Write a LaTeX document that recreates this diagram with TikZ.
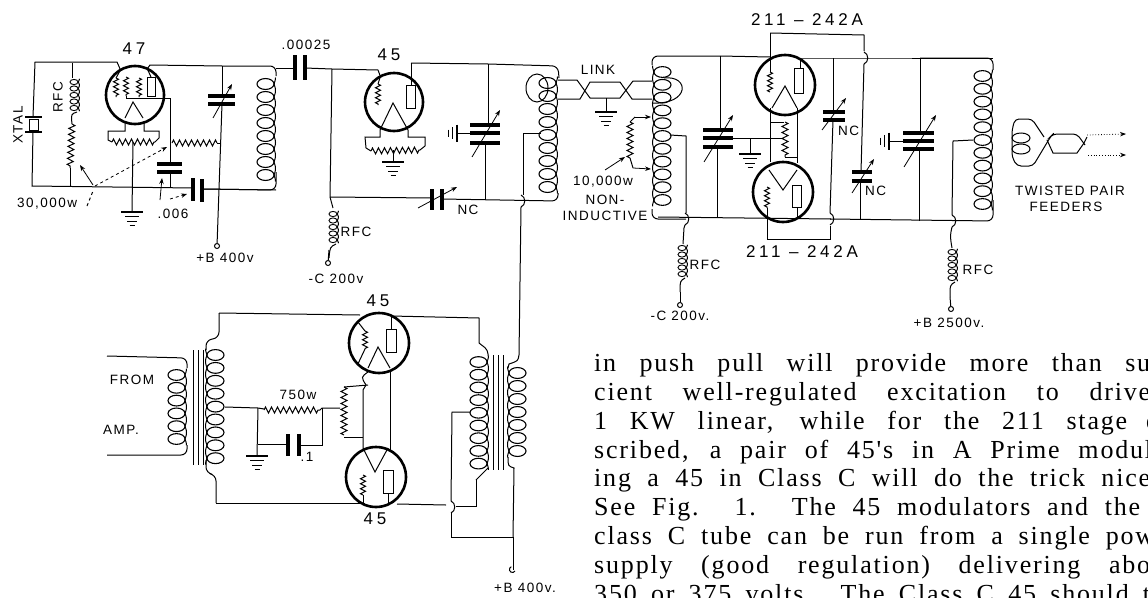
\documentclass[tikz,border=0pt]{standalone}
\usepackage{fontspec}
\setmainfont{Liberation Serif}
\newfontfamily\lblfont[LetterSpace=11]{Liberation Sans}
\newfontfamily\bigfont[LetterSpace=22]{Liberation Sans}
\newfontfamily\bodyfont[LetterSpace=7]{Liberation Serif}
\usetikzlibrary{arrows.meta}
\usetikzlibrary{calc,decorations.pathmorphing}

\newcommand{\bline}[2][556pt]{\makebox[#1][s]{#2}}

\tikzset{
	wire/.style={line width=1pt},
	bendwire/.style={line width=1pt,rounded corners=6pt},
	plate/.style={line width=3.2pt},
	tube/.style={draw,circle,line width=2.6pt,inner sep=0pt,outer sep=0pt,minimum size=#1},
	res/.style={line width=1pt,decorate,decoration={zigzag,amplitude=3pt,segment length=6pt}},
	tip/.style={line width=0.8pt,-{Stealth[length=6pt,width=4.5pt]}},
	lbl/.style={font=\lblfont\fontsize{13.5}{14}\selectfont,inner sep=0pt},
	biglbl/.style={font=\bigfont\fontsize{17}{18}\selectfont,inner sep=0pt},
	term/.style={draw,circle,line width=1pt,inner sep=0pt,minimum size=5pt},
	bodyline/.style={anchor=base west,inner sep=0pt,font=\bodyfont\fontsize{26}{28}\selectfont},
	% spine on the right, loops to the left
	pics/coilr/.style n args={2}{code={
		\pgfmathsetmacro{\coilend}{#1-0.5}
		\foreach \i in {1,...,#1}
			\draw[line width=1.1pt] (-8.5,{(\i-1)*#2}) ellipse [x radius=8.5pt,y radius=0.42*#2 pt];
		\draw[wire] plot[domain=-0.5:\coilend,samples=60,smooth] ({1.5*abs(sin(180*\x))},{\x*#2});
	}},
	% spine on the left, loops to the right
	pics/coill/.style n args={2}{code={
		\pgfmathsetmacro{\coilend}{#1-0.5}
		\foreach \i in {1,...,#1}
			\draw[line width=1.1pt] (8.5,{(\i-1)*#2}) ellipse [x radius=8.5pt,y radius=0.42*#2 pt];
		\draw[wire] plot[domain=-0.5:\coilend,samples=60,smooth] ({-1.5*abs(sin(180*\x))},{\x*#2});
	}},
	% small choke
	pics/rfc/.style={code={
		\foreach \i in {0,...,4}
			\draw[line width=0.9pt] (-3,{\i*6.5}) ellipse [x radius=4pt,y radius=2.6pt];
		\draw[wire] plot[domain=-0.5:4.5,samples=50,smooth] ({1.2+1.2*abs(sin(180*\x))},{\x*6.5});
	}},
	pics/gnd/.style={code={
		\draw[line width=1.2pt] (-11,0)--(11,0);
		\draw[line width=1.1pt] (-7,4.5)--(7,4.5);
		\draw[line width=1pt] (-5,9)--(5,9);
		\draw[line width=1pt] (-2.5,13)--(2.5,13);
	}},
	% wire jumping over another wire
	pics/hop/.style={code={
		\draw[wire] (0,-6) .. controls (5,-4) and (5,4) .. (0,6);
	}},
	% earthed rotor bar, seen from the side
	pics/rotor/.style={code={
		\draw[line width=2pt] (0,-8.5)--(0,8.5);
		\draw[line width=0.9pt] (-5,-6)--(-5,6);
		\draw[line width=0.9pt] (-9,-3.5)--(-9,3.5);
	}},
}

\begin{document}
\begin{tikzpicture}[x=1pt,y=-1pt]
	\useasboundingbox (0,0) rectangle (1148,597);

	%%%%% 47 oscillator
	\node[tube=58pt] (V47) at (135,95) {};
	\coordinate (TL) at (35,62) ;
	\coordinate (BL) at (32,186) ;
	\coordinate (XA) at (33,117) ;
	\coordinate (XB) at (33,132) ;
	\coordinate (RT) at (72,63) ;
	\coordinate (RB) at (70,186) ;
	\coordinate (CA) at (193,188) ;
	\coordinate (CB) at (202,189) ;
	\coordinate (CP) at (222,66) ;
	\coordinate (CQ) at (218,190) ;
	\coordinate (LA) at (276,66) ;
	\coordinate (LB) at (276,190) ;
	\coordinate (Gs) at (170,98) ;

	\node[biglbl] (n47) at (134,49) {47};
	\node[lbl,rotate=90] (xtal) at (18,125) {XTAL};
	\node[lbl,rotate=90] (rfc1) at (58,97) {RFC};
	\node[lbl,anchor=west] (r30k) at (17,204) {30,000w};
	\node[lbl] (c006) at (173,214) {.006};
	\node[lbl] (b400) at (225,258) {+B 400v};

	\draw[wire] (XA) -- (TL) -- (117,62) -- (V47.120);
	\draw[wire] (XB) -- (BL) -- (CA);
	\draw[plate,line width=1.3pt] (25,117) -- (42,117) (25,132) -- (42,132);
	\draw[wire] (29,119) rectangle (38,130);

	\draw[wire] (RT) -- (72,78);
	\path (77,82) pic {rfc};
	\draw[wire] (77,112) .. controls (71,114) .. (72,124);
	\draw[res] (72,124) -- (70,168);
	\draw[wire] (70,168) -- (RB);

	% inside the tube
	\draw[wire] (V47.120) -- (116,78);
	\draw[res,decoration={amplitude=2.5pt,segment length=5pt}] (116,78) -- (116,97);
	\draw[res,decoration={amplitude=2.5pt,segment length=5pt}] (126,77) -- (126,96);
	\draw[res,decoration={amplitude=2.5pt,segment length=5pt}] (139,78) -- (139,97);
	\draw[wire] (126,96) -- (126,98) -- (Gs);
	\draw[wire] (147,77) rectangle (155,96);
	\draw[wire] (151,77) -- (V47.65);
	\draw[wire] (125,118) -- (133,102) -- (143,118);
	% filament
	\draw[wire] (125,121) -- (125,131) -- (108,131) -- (108,140) -- (112,142);
	\draw[res] (112,142) -- (155,142);
	\draw[wire] (155,142) -- (159,138) -- (159,131) -- (144,131) -- (144,121);
	\draw[wire] (133,142) -- (132,212);
	\path (132,212) pic {gnd};

	\draw[wire] (Gs) -- (170,143);
	\draw[wire] (170,143) -- (170,164);
	\draw[res] (172,143) -- (217,143);
	\draw[wire] (217,143) -- (221,143);
	\draw[plate] (157,164) -- (182,164);
	\draw[plate] (157,172) -- (182,172);
	\draw[wire] (170,172) -- (170,188);
	\draw[plate] (CA)++(0,-10) -- ++(0,23);
	\draw[plate] (CB)++(0,-10) -- ++(0,23);
	\draw[wire] (CB) -- (LB);

	% pointers to the values
	\draw[tip] (93,185) -- (80,165);
	\draw[tip,dashed] (95,186) -- (167,147);
	\draw[wire,dashed] (87,206) -- (93,191);
	\draw[tip] (160,200) -- (162,178);
	\draw[tip,dashed] (170,199) -- (187,194);

	\draw[wire] (V47.65) -- (150,65) -- (CP);
	\draw[wire] (CP) -- (222,96);
	\draw[plate] (208,96) -- (235,96);
	\draw[plate] (208,104) -- (235,104);
	\draw[tip] (213,118) -- (232,84);
	\node[term] (tb400) at (217,246) {};
	\draw[wire] (222,104) -- (tb400);

	\draw[bendwire] (CP) -- (276,66) -- (276,76);
	\path (274,84) pic {coilr={8}{13}};
	\draw[bendwire] (276,172) -- (276,190) -- (CB);

	%%%%% coupling condenser
	\node[lbl] (c25) at (306,45) {.00025};
	\draw[wire] (276,68) -- (295,68);
	\draw[plate] (295,55) -- (295,80);
	\draw[plate] (305,55) -- (305,80);

	%%%%% 45 buffer
	\node[tube=58pt] (V45) at (394,102) {};
	\coordinate (Gb) at (332,69) ;
	\coordinate (Gc) at (330,197) ;
	\coordinate (Pm) at (411,63) ;
	\coordinate (Cm) at (488,64) ;
	\coordinate (LC) at (558,66) ;
	\coordinate (LD) at (558,201) ;
	\coordinate (Fd) at (519,207) ;

	\node[biglbl] (n45) at (389,55) {45};
	\node[lbl] (rfc2) at (356,232) {RFC};
	\node[lbl] (nc1) at (468,210) {NC};
	\node[lbl] (c200a) at (336,279) {-C 200v};

	\draw[wire] (305,68) -- (Gb) -- (378,70) -- (V45.118);
	\draw[wire] (V45.118) -- (378,84);
	\draw[res,decoration={amplitude=2.5pt,segment length=5pt}] (378,84) -- (378,105);
	\draw[wire] (406,85) rectangle (415,108);
	\draw[wire] (411,85) -- (Pm);
	\draw[wire] (380,130) -- (393,103) -- (408,130);
	\draw[wire] (380,130) -- (380,137) -- (365,137) -- (366,148) -- (371,151);
	\draw[res] (371,151) -- (420,150);
	\draw[wire] (420,150) -- (425,146) -- (425,137) -- (408,137) -- (408,130);
	\draw[wire] (393,150) -- (393,162);
	\path (393,162) pic {gnd};

	\draw[wire] (Pm) -- (Cm);
	\draw[bendwire] (Cm) -- (LC) -- (559,78);
	\path (556,83) pic {coilr={9}{13}};
	\draw[wire] (Cm) -- (488,125);
	\draw[plate] (470,125) -- (500,125);
	\draw[plate] (470,133) -- (500,133);
	\draw[plate] (470,143) -- (500,143);
	\draw[tip] (472,157) -- (500,110);
	\draw[wire] (457,133) -- (470,133);
	\path (457,133) pic {rotor};
	\draw[wire] (485,143) -- (485,200);

	\draw[wire] (Gb) -- (Gc);
	\draw[wire] (Gc) -- (432,198);
	\draw[plate] (432,189) -- (432,210);
	\draw[plate] (442,189) -- (442,210);
	\draw[tip] (418,208) -- (457,187);
	\draw[bendwire] (442,199) -- (LD) -- (558,193);
	\draw[wire] (Gc) .. controls (332,202) .. (333,208);
	\path (336,214) pic {rfc};
	\draw[wire] (336,244) .. controls (330,247) .. (329,258);
	\node[term] (tc200a) at (328,263) {};
	\draw[wire] (329,250) -- (tc200a);

	% plate tap, runs on down to the modulators
	\draw[wire] (541,133) -- (523,133) -- (523,195);
	\path (521,201) pic {hop};
	\draw[wire] (521,207) -- (519,355);
	
	% link
	\node[lbl] (link) at (598,70) {LINK};
	\draw[wire] (537,88) ellipse [x radius=11pt,y radius=14pt];
	\draw[wire] (558,80) -- (577,80) -- (590,98) -- (620,98) -- (633,81) -- (652,81);
	\draw[wire] (558,99) -- (580,99) -- (590,82) -- (620,82) -- (632,99) -- (652,99);
	\draw[wire] (606,98) -- (606,112);
	\path (606,112) pic {gnd};
	\draw[wire] (664,78) .. controls (690,75) and (690,105) .. (652,103);

	%%%%% 211 push-pull
	\node[tube=60pt] (VA) at (785,85) {};
	\node[tube=60pt] (VB) at (783,192) {};
	\coordinate (Ltl) at (652,55) ;
	\coordinate (Lbl) at (652,217) ;
	\coordinate (Ltr) at (993,58) ;
	\coordinate (Lbr) at (993,221) ;
	\coordinate (Tap) at (670,135) ;
	\coordinate (Hp) at (686,219) ;
	\coordinate (Gt) at (770,33) ;
	\coordinate (Gr) at (864,35) ;
	\coordinate (Gl) at (767,239) ;
	\coordinate (Gs2) at (830,239) ;
	\coordinate (Cl) at (720,56) ;
	\coordinate (Cn) at (833,58) ;
	\coordinate (Cr) at (920,58) ;
	\coordinate (Ct) at (750,138) ;

	\node[biglbl] (n211a) at (807,20) {211 – 242A};
	\node[biglbl] (n211b) at (802,252) {211 – 242A};
	\node[lbl,anchor=west] (nc2) at (838,131) {NC};
	\node[lbl,anchor=west] (nc3) at (865,191) {NC};
	\node[lbl] (rfc3) at (705,265) {RFC};
	\node[lbl] (c200b) at (680,316) {-C 200v.};
	\node[lbl] (r10k) at (603,182) {10,000w};
	\node[lbl] (non) at (605,200) {NON-};
	\node[lbl] (ind) at (605,216) {INDUCTIVE};

	\draw[bendwire] (Ltl)++(0,10) |- (Cl);
	\path (654,72) pic {coill={11}{12.8}};
	\draw[bendwire] (Lbl)++(0,-8) |- (Hp);

	\draw[tip] (635,117) -- (651,117);
	\draw[wire] (635,117) -- (630,122);
	\draw[res] (630,122) -- (630,158);
	\draw[wire] (630,158) -- (633,168);
	\draw[tip] (633,168) -- (651,169);
	\draw[tip] (605,170) -- (625,157);

	\draw[wire] (Tap) -- (686,136) -- (686,213);
	\path (685,219) pic {hop};
	\draw[wire] (685,225) -- (684,228) .. controls (683,236) .. (683,244);
	\path (685,248) pic {rfc};
	\draw[wire] (685,278) .. controls (680,281) .. (680,292);
	\node[term] (tc200b) at (680,305) {};
	\draw[wire] (680,292) -- (tc200b);

	\draw[wire] (Cl) -- (720,130);
	\draw[plate] (703,130) -- (733,130);
	\draw[plate] (703,138) -- (733,138);
	\draw[plate] (703,147) -- (733,147);
	\draw[tip] (704,162) -- (733,115);
	\draw[wire] (717,147) -- (717,218);
	\draw[wire] (733,138) -- (783,138);
	\draw[wire] (Ct) -- (750,154);
	\path (750,154) pic {gnd};

	\draw[wire] (Cl) -- (770,57);
	\draw[wire] (800,58) -- (Cn) -- (Ltr);
	\draw[wire] (Gt) -- (Gr) -- (864,51);
	\draw[wire] (Gt) -- (770,72);
	\draw[res,decoration={amplitude=2.5pt,segment length=5pt}] (770,72) -- (770,92);
	\draw[wire] (794,68) rectangle (803,93);
	\draw[wire] (800,68) -- (800,58);
	\draw[wire] (772,108) -- (785,86) -- (797,108);
	\draw[wire] (770,108) -- (770,162);
	\draw[wire] (797,108) -- (797,163);
	\draw[wire] (770,122) -- (784,122);
	\draw[res] (785,122) -- (785,157);
	\draw[wire] (785,157) -- (797,157);

	\draw[wire] (769,170) -- (783,190) -- (797,170);
	\draw[res,decoration={amplitude=2.5pt,segment length=5pt}] (767,187) -- (767,208);
	\draw[wire] (767,208) -- (Gl) -- (Gs2) -- (830,226);
	\draw[wire] (792,185) rectangle (801,207);
	\draw[wire] (797,207) -- (797,219);
	\draw[wire] (Lbl)++(6,0) -- (831,219);
	\path (830,219) ++(0,0) pic {hop};
	\draw[wire] (830,213) -- (Cn |- 0,120);
	\draw[wire] (Cn) -- (833,112);
	\draw[plate] (823,112) -- (845,112);
	\draw[plate] (823,120) -- (845,120);
	\draw[tip] (822,130) -- (846,98);

	\path (864,58) pic {hop};
	\draw[wire] (864,64) -- (861,172);
	\draw[plate] (852,172) -- (872,172);
	\draw[plate] (852,181) -- (872,181);
	\draw[tip] (852,193) -- (874,159);
	\draw[wire] (860,181) -- (860,220);

	\draw[wire] (Cr) -- (920,133);
	\draw[plate] (903,133) -- (934,133);
	\draw[plate] (903,141) -- (934,141);
	\draw[plate] (903,149) -- (934,149);
	\draw[tip] (904,167) -- (936,115);
	\draw[wire] (889,141) -- (903,141);
	\path (889,141) pic {rotor};
	\draw[wire] (919,149) -- (919,221);

	\draw[bendwire] (Cr) -- (Ltr) -- (993,70);
	\path (991,76) pic {coilr={11}{12.8}};
	\draw[bendwire] (993,200) -- (Lbr) -- (830,219);

	\draw[wire] (973,140) -- (953,141) -- (952,215);
	\path (952,221) pic {hop};
	\draw[wire] (952,227) .. controls (950,236) .. (952,248);
	\path (955,252) pic {rfc};
	\draw[wire] (955,282) .. controls (950,285) .. (950,297);
	\node[term] (tb2500) at (951,309) {};
	\draw[wire] (950,297) -- (tb2500);
	\node[lbl] (rfc4) at (978,270) {RFC};
	\node[lbl] (b2500) at (949,323) {+B 2500v.};

	%%%%% feeders
	\node[lbl] (tp) at (1070,191) {TWISTED PAIR};
	\node[lbl] (fd) at (1066,207) {FEEDERS};
	\draw[line width=1pt] (1021,138) ellipse [x radius=9pt,y radius=5pt];
	\draw[line width=1pt] (1021,149) ellipse [x radius=9pt,y radius=5pt];
	\draw[bendwire,rounded corners=4pt] (1044,137) -- (1032,119) -- (1015,119) -- (1012,130) -- (1012,157) -- (1017,166) -- (1033,166) -- (1051,136) -- (1053,134) -- (1077,134) -- (1085,145);
	\draw[wire] (1047,140) -- (1053,153) -- (1077,153) -- (1084,143) -- (1087,137);
	\draw[tip,dotted] (1087,135) -- (1126,134);
	\draw[tip,dotted] (1088,155) -- (1126,155);

	%%%%% 45 modulators
	\node[tube=60pt] (VC) at (379,343) {};
	\node[tube=60pt] (VD) at (376,477) {};
	\coordinate (Ut) at (219,313) ;
	\coordinate (Ub) at (216,503) ;
	\coordinate (Mid) at (258,408) ;
	\coordinate (Rr) at (322,408) ;
	\coordinate (Mr) at (479,318) ;
	\coordinate (Mb) at (476,506) ;
	\coordinate (Fb) at (513,537) ;
	\coordinate (Sl) at (451,537) ;

	\node[biglbl] (n45a) at (378,301) {45};
	\node[biglbl] (n45b) at (375,519) {45};
	\node[lbl] (from) at (132,380) {FROM};
	\node[lbl] (amp) at (121,430) {AMP.};
	\node[lbl] (r750) at (298,395) {750w};
	\node[lbl] (c1) at (307,457) {.1};
	\node[lbl] (b400b) at (525,588) {+B 400v.};

	\draw[bendwire] (107,356) -- (187,358) -- (187,368);
	\path (185,375) pic {coilr={6}{12.8}};
	\draw[bendwire] (187,445) -- (187,455) -- (107,455);
	\draw[wire] (193,350) -- (193,465);
	\draw[wire] (198,350) -- (198,465);
	\draw[wire] (203,350) -- (203,465);

	\draw[bendwire] (Ut) -- (219,338) -- (206,340) -- (206,350);
	\path (207,355) pic {coill={9}{12.9}};
	\draw[bendwire] (206,460) -- (206,473) -- (216,475) -- (Ub);
	\draw[wire] (Ut) -- (360,315);
	\draw[wire] (Ub) -- (365,503);

	\draw[wire] (225,407) -- (Mid) -- (264,409);
	\draw[res] (264,410) -- (320,410);
	\draw[wire] (320,410) -- (Rr) -- (340,408);
	\draw[wire] (Mid) -- (257,456);
	\path (257,456) pic {gnd};
	\draw[wire] (258,444) -- (288,444);
	\draw[plate] (288,434) -- (288,456);
	\draw[plate] (299,434) -- (299,456);
	\draw[wire] (299,445) -- (322,445) -- (Rr);

	\draw[res] (344,387) -- (344,435);
	\draw[wire] (344,387) -- (368,385);
	\draw[wire] (344,437) -- (363,437);
	
	\draw[res,decoration={amplitude=2.5pt,segment length=5pt}] (365,331) -- (365,349);
	\draw[wire] (365,349) -- (VC.south west);
	\draw[wire] (365,331) -- (VC.north west);
	\draw[wire] (386,329) rectangle (396,352);
	\draw[wire] (391,329) -- (391,316);
	\draw[wire] (368,368) -- (378,347) -- (390,368);
	\draw[wire] (368,372) .. controls (361,377) .. (366,385) -- (363,390) -- (363,448);
	\draw[wire] (390,370) -- (390,450);

	\draw[wire] (363,448) -- (375,472) -- (388,448);
	\draw[res,decoration={amplitude=2.5pt,segment length=5pt}] (363,475) -- (363,495);
	\draw[wire] (363,495) -- (363,503);
	\draw[wire] (383,470) rectangle (393,493);
	\draw[wire] (388,493) -- (388,505);

	\draw[wire] (391,316) -- (Mr) -- (479,343);
	\draw[wire,rounded corners=4pt] (479,343) -- (488,350) -- (488,356);
	\path (487,362) pic {coilr={9}{12.7}};
	\draw[wire,rounded corners=4pt] (488,468) -- (476,480);
	\draw[wire] (476,480) -- (Mb) -- (456,506);
	\draw[wire] (446,505) -- (397,504);
	\path (451,507) pic {hop};
	\draw[wire] (470,412) -- (452,412) -- (451,501);
	\draw[wire] (451,513) -- (Sl) -- (Fb);

	\draw[wire] (493,355) -- (493,470);
	\draw[wire] (498,355) -- (498,470);
	\draw[wire] (503,355) -- (503,470);

	\draw[wire] (519,355) .. controls (518,361) .. (509,364) -- (508,368);
	\path (509,373) pic {coill={7}{13}};
	\draw[wire] (508,457) .. controls (508,466) .. (514,468) -- (Fb);
	\draw[wire] (Fb) -- (513,570);
	\draw[wire] (515,571) arc [start angle=-30,end angle=-250,radius=3pt];

	%%%%% text of the page
	\begin{scope}
		\clip (0,0) rectangle (1148,597);
		\node[bodyline] (line1) at (594,371) {\bline{in push pull will provide more than su}};
		\node[bodyline] (line2) at (594,400) {\bline{cient well-regulated excitation to drive}};
		\node[bodyline] (line3) at (594,429) {\bline[533pt]{1 KW linear, while for the 211 stage}\hspace{19pt}d};
		\node[bodyline] (line4) at (594,458) {\bline[558pt]{scribed, a pair of 45's in A Prime modul}};
		\node[bodyline] (line5) at (594,486) {\bline{ing a 45 in Class C will do the trick nice}};
		\node[bodyline] (line6) at (594,515) {\bline[546pt]{See Fig. 1. The 45 modulators and the}};
		\node[bodyline] (line7) at (594,544) {\bline[560pt]{class C tube can be run from a single pow}};
		\node[bodyline] (line8) at (594,573) {\bline{supply (good regulation) delivering abo}};
		\node[bodyline] (line9) at (594,602) {\bline[556pt]{350 or 375 volts. The Class C 45 should t}};
	\end{scope}
\end{tikzpicture}
\end{document}
